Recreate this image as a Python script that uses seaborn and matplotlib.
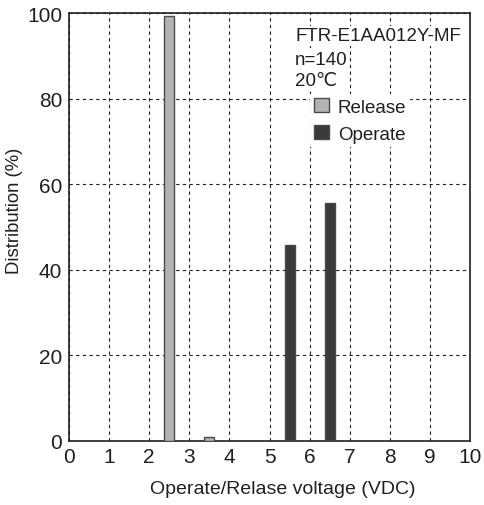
import matplotlib
matplotlib.use("Agg")
import matplotlib.pyplot as plt
import seaborn as sns
import pandas as pd
from matplotlib.patches import Patch

voltages = [2.5, 3.5, 5.5, 6.5]
distribution = [99.3, 0.9, 45.8, 55.7]
kinds = ["Release", "Release", "Operate", "Operate"]
x_ticks = [0, 1, 2, 3, 4, 5, 6, 7, 8, 9, 10]
y_ticks = [0, 20, 40, 60, 80, 100]

df = pd.DataFrame({"v": voltages, "d": distribution, "k": kinds})

sns.set_theme(style="white")
plt.rcParams["font.family"] = ["Liberation Sans", "DejaVu Sans"]

fig = plt.figure(figsize=(4.84, 5.06), dpi=100)
ax = fig.add_axes([0.1426, 0.1265, 0.8285, 0.8458])

palette = {"Release": "#b3b3b3", "Operate": "#3c3a38"}
sns.barplot(data=df, x="v", y="d", hue="k", palette=palette, native_scale=True,
            dodge=False, width=0.25, edgecolor="#4a4a4a", linewidth=1.0,
            saturation=1, legend=False, ax=ax, zorder=3)

ink = "#231f20"
ax.set_xlim(0, 10)
ax.set_ylim(0, 100)
ax.set_xticks(x_ticks)
ax.set_yticks(y_ticks)
ax.set_xticklabels([str(t) for t in x_ticks], fontsize=15, color=ink)
ax.set_yticklabels([str(t) for t in y_ticks], fontsize=15, color=ink)
ax.tick_params(axis="x", length=0, pad=4)
ax.tick_params(axis="y", length=0, pad=5)
ax.set_xlabel("Operate/Relase voltage (VDC)", fontsize=14, color=ink)
ax.set_ylabel("Distribution (%)", fontsize=13.3, color=ink)
ax.xaxis.set_label_coords(0.534, -0.091)
ax.yaxis.set_label_coords(-0.115, 0.54)

ax.grid(True, linestyle=(0, (3, 3)), color=ink, linewidth=0.8, zorder=0)
ax.set_axisbelow(True)
for s in ax.spines.values():
    s.set_color(ink)
    s.set_linewidth(1.2)
    s.set_visible(True)

bb = dict(facecolor="white", edgecolor="none", pad=1.0)
ax.text(5.64, 94.7, "FTR-E1AA012Y-MF", fontsize=13.5, color=ink, va="center", ha="left", bbox=bb, zorder=4)
ax.text(5.64, 89.1, "n=140", fontsize=13.5, color=ink, va="center", ha="left", bbox=bb, zorder=4)
ax.text(5.64, 84.2, "20\u2103", fontsize=13.5, color=ink, va="center", ha="left", bbox=bb, zorder=4)

handles = [Patch(facecolor=palette["Release"], edgecolor="#4a4a4a", linewidth=1.0, label="Release"),
           Patch(facecolor=palette["Operate"], edgecolor="#4a4a4a", linewidth=1.0, label="Operate")]
leg = ax.legend(handles=handles, loc="upper left", bbox_to_anchor=(0.601, 0.810),
                frameon=True, fancybox=False, framealpha=1, facecolor="white", edgecolor="none",
                fontsize=13.5, handlelength=0.8, handleheight=0.8, handletextpad=0.48,
                labelspacing=0.5, borderpad=0.2, borderaxespad=0)
for t in leg.get_texts():
    t.set_color(ink)
leg.set_zorder(5)

fig.savefig("out.png", dpi=100)
